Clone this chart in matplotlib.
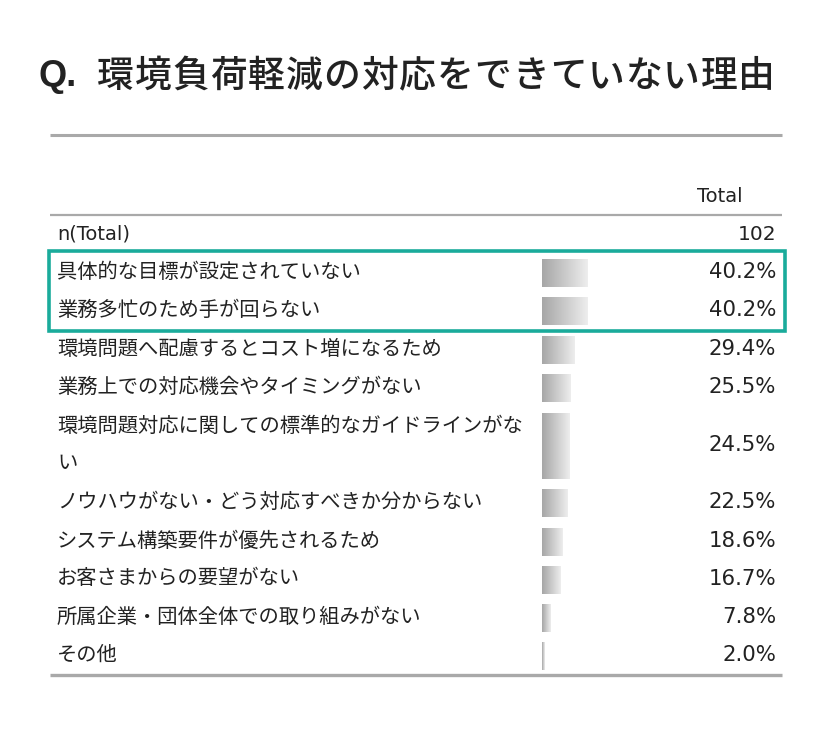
import matplotlib.pyplot as plt
import numpy as np
from matplotlib.colors import LinearSegmentedColormap

# Survey data
title_prefix = "Q."
title = "環境負荷軽減の対応をできていない理由"
header = "Total"
n_total = 102
labels = [
    "具体的な目標が設定されていない",
    "業務多忙のため手が回らない",
    "環境問題へ配慮するとコスト増になるため",
    "業務上での対応機会やタイミングがない",
    "環境問題対応に関しての標準的なガイドラインがな\nい",
    "ノウハウがない・どう対応すべきか分からない",
    "システム構築要件が優先されるため",
    "お客さまからの要望がない",
    "所属企業・団体全体での取り組みがない",
    "その他",
]
values = [40.2, 40.2, 29.4, 25.5, 24.5, 22.5, 18.6, 16.7, 7.8, 2.0]
highlight = [0, 1]

# Layout (pixels, figure is 834x751)
W, H = 834, 751
row_y = [273, 311, 350, 388, 446, 503, 542, 580, 618, 656]
row_h = [29, 29, 29, 29, 67, 29, 29, 29, 29, 29]
TEXT = "#222222"
GRID = "#a9a9a9"
TEAL = "#1aab9b"
JP = ["Noto Sans CJK JP", "DejaVu Sans"]

fig = plt.figure(figsize=(W / 100, H / 100), dpi=100)
ax = fig.add_axes([0, 0, 1, 1])
ax.set_xlim(0, W)
ax.set_ylim(H, 0)
ax.axis("off")

# title (the original uses wide letter spacing, so place glyph by glyph)
ax.text(39, 76, title_prefix, fontsize=26, family="Liberation Sans",
        weight="bold", color=TEXT, va="center", ha="left")
pitch = (776 - 97) / len(title)
for i, ch in enumerate(title):
    ax.text(97 + i * pitch, 76, ch, fontsize=26.5, family=JP, weight="medium",
            color=TEXT, va="center", ha="left")

# rules
ax.plot([50, 782], [135, 135], color=GRID, lw=2.2, solid_capstyle="butt")
ax.plot([50, 782], [215, 215], color=GRID, lw=1.6, solid_capstyle="butt")
ax.plot([50, 782], [675, 675], color=GRID, lw=2.4, solid_capstyle="butt")

ax.text(720, 196, header, fontsize=14, family="DejaVu Sans", color=TEXT,
        ha="center", va="center")
ax.text(57, 234, "n(Total)", fontsize=14, family="DejaVu Sans", color=TEXT,
        ha="left", va="center")
ax.text(776, 234, str(n_total), fontsize=14.5, family="DejaVu Sans", color=TEXT,
        ha="right", va="center")

for lab, val, y in zip(labels, values, row_y):
    ax.text(57, y - 1, lab, fontsize=14.6, family=JP, color=TEXT,
            ha="left", va="center", linespacing=1.95)
    ax.text(776, y - 1, f"{val:.1f}%", fontsize=15.3, family="DejaVu Sans",
            color=TEXT, ha="right", va="center")

# highlight box
top = row_y[highlight[0]] - 22
bot = row_y[highlight[-1]] + 20
ax.add_patch(plt.Rectangle((49, top), 736, bot - top, fill=False,
                           edgecolor=TEAL, lw=2.6))

# gradient bars
axb = fig.add_axes([542 / W, 0, 112 / W, 1])
axb.set_xlim(0, 100)
axb.set_ylim(H, 0)
axb.axis("off")
axb.patch.set_alpha(0)
cmap = LinearSegmentedColormap.from_list("fade", ["#a6a6a6", "#eeeeee"])
grad = np.linspace(0, 1, 256).reshape(1, -1)
bars = axb.barh(row_y, values, height=row_h, color="none", edgecolor="none")
for bar, val, y, h in zip(bars, values, row_y, row_h):
    img = axb.imshow(grad, cmap=cmap, aspect="auto",
                     extent=[0, val, y + h / 2, y - h / 2])
    img.set_clip_path(bar)
axb.set_xlim(0, 100)
axb.set_ylim(H, 0)

fig.savefig("out.png", dpi=100)
